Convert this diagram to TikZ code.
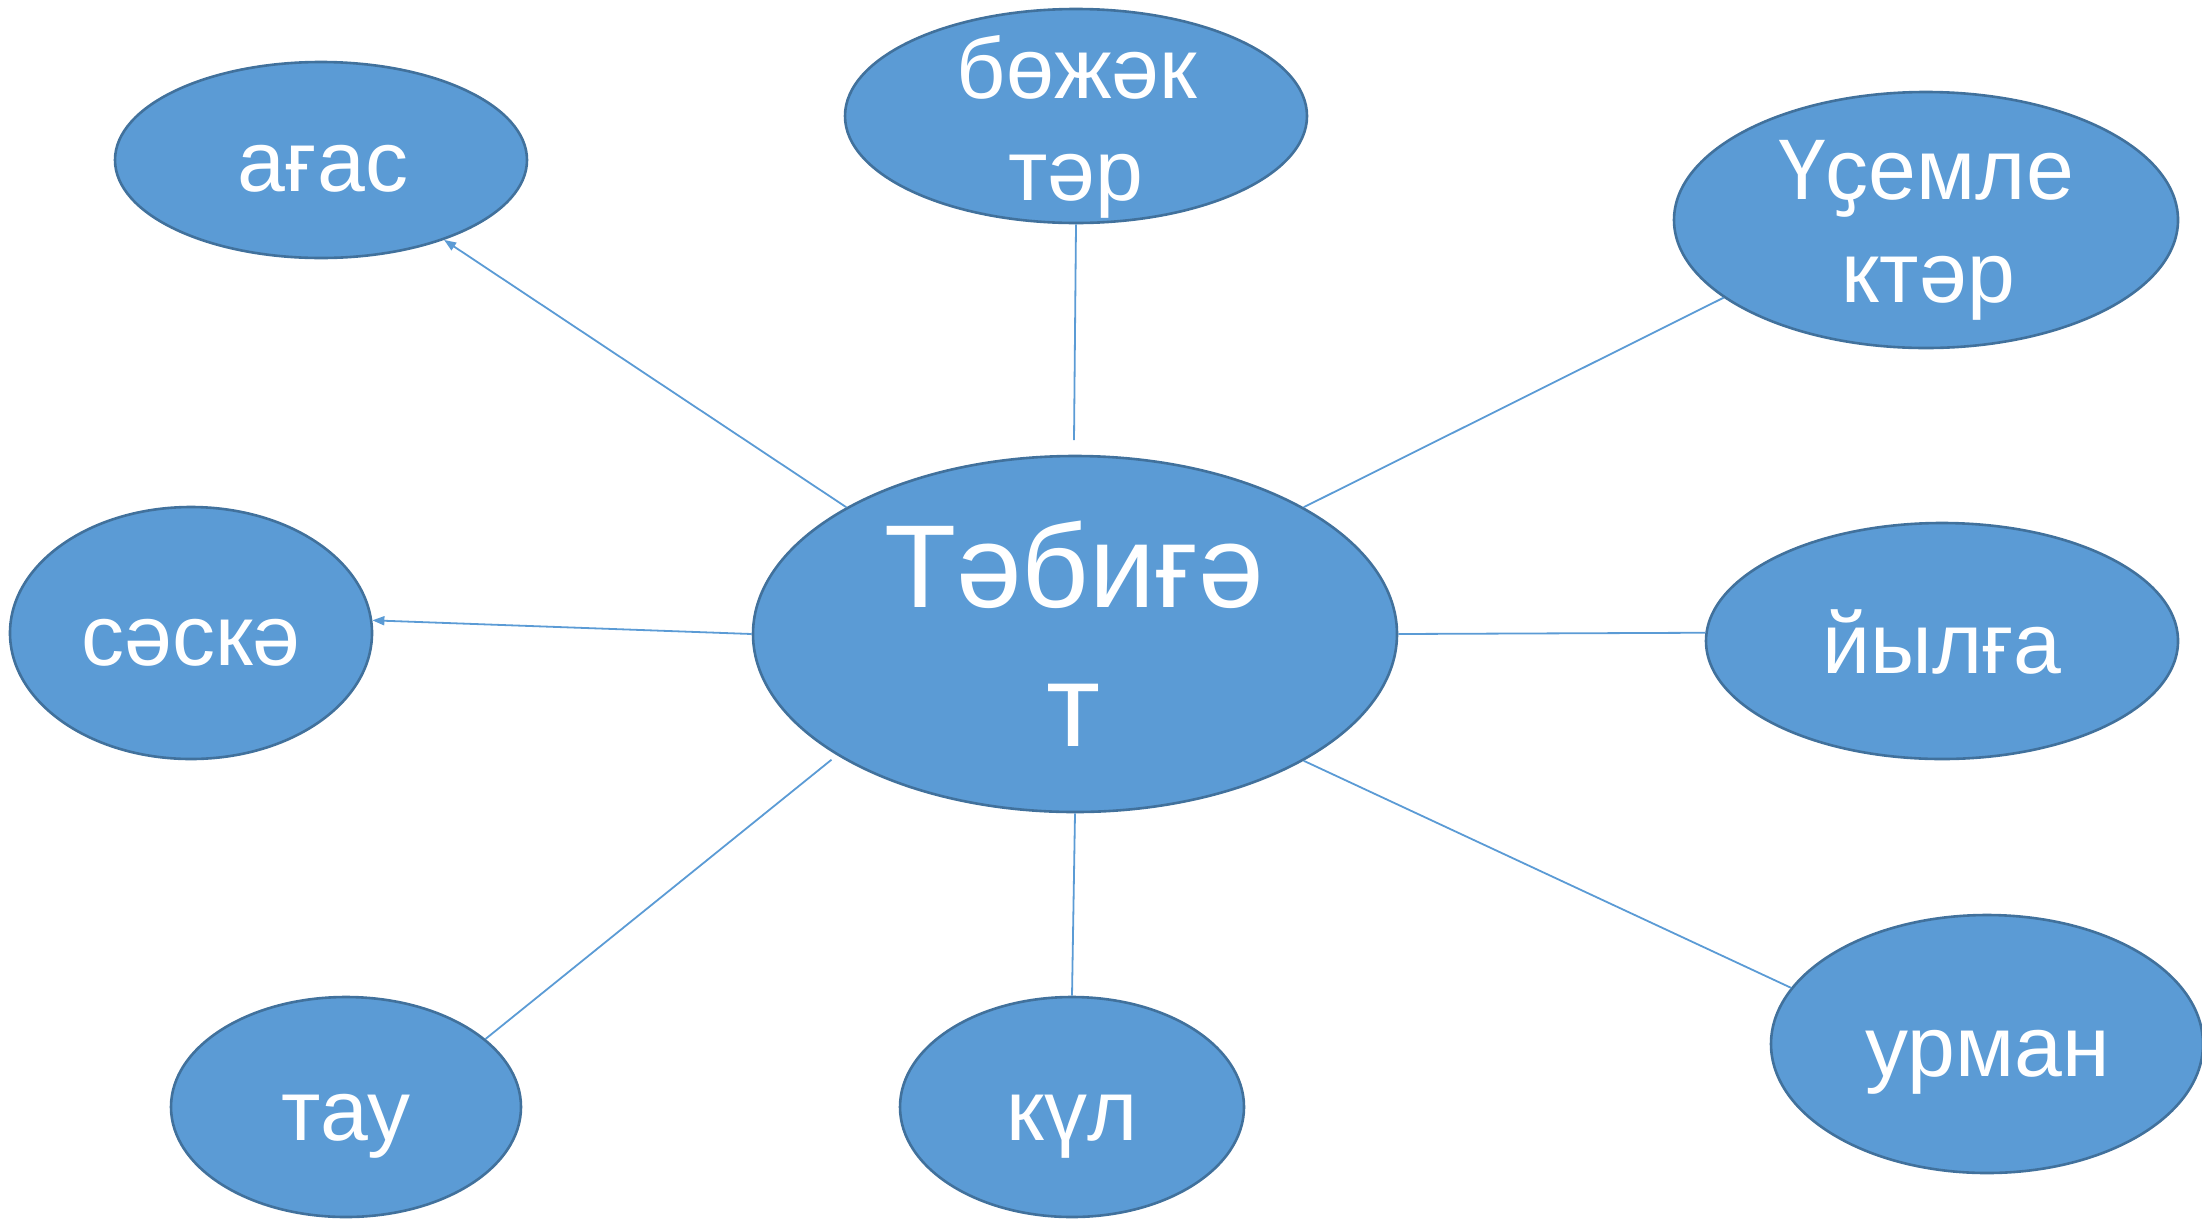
\documentclass[tikz,border=0pt]{standalone}
\usepackage{fontspec}
\setmainfont{Liberation Sans}
\usetikzlibrary{shapes.geometric,arrows.meta}
\definecolor{fillblue}{HTML}{5B9BD5}
\definecolor{edgeblue}{HTML}{41719C}
\begin{document}
\begin{tikzpicture}[x=1pt,y=-1pt,
  bub/.style={ellipse, draw=edgeblue, line width=2.6pt, fill=fillblue, inner sep=0pt},
  lbl/.style={text=white, anchor=base, inner sep=0pt, font=\fontsize{86}{100}\selectfont},
  biglbl/.style={text=white, anchor=base, inner sep=0pt, font=\fontsize{118}{136}\selectfont},
  link/.style={draw=fillblue, line width=1.8pt},
  tip/.style={-{Triangle[length=12pt,width=9pt]}}
]
\useasboundingbox (0,0) rectangle (2202,1219);
\clip (0,0) rectangle (2202,1219);

% ellipses
\node[bub, minimum width=644pt, minimum height=356pt] (tabigat) at (1075,634) {};
\node[bub, minimum width=412pt, minimum height=196pt] (agas) at (321,160) {};
\node[bub, minimum width=462pt, minimum height=214pt] (bozhak) at (1076,116) {};
\node[bub, minimum width=504pt, minimum height=256pt] (usemle) at (1926,220) {};
\node[bub, minimum width=472pt, minimum height=236pt] (yylga) at (1942,641) {};
\node[bub, minimum width=432pt, minimum height=258pt] (urman) at (1987,1044) {};
\node[bub, minimum width=362pt, minimum height=252pt] (saska) at (191,633) {};
\node[bub, minimum width=350pt, minimum height=220pt] (tau) at (346,1107) {};
\node[bub, minimum width=344pt, minimum height=220pt] (kul) at (1072,1107) {};

\coordinate (bzend) at (1074,440);

% connectors
\draw[link, tip] (tabigat.151) -- (agas.327);
\draw[link, tip] (tabigat.180) -- (saska.4);
\draw[link] (bozhak.south) -- (bzend);
\draw[link] (tabigat.29) -- (usemle.201);
\draw[link] (tabigat.0) -- (yylga.178);
\draw[link] (tabigat.331) -- (urman.164);
\draw[link] (tabigat.south) -- (kul.north);
\draw[link, shorten <=7pt] (tabigat.207.6) -- (tau.26);

% labels
\node[biglbl] (t1) at (1074,607) {Тәбиғә};
\node[biglbl] (t2) at (1074,746) {т};
\node[lbl] (la) at (323,191) {ағас};
\node[lbl] (lb1) at (1077,98) {бөжәк};
\node[lbl] (lb2) at (1076,200) {тәр};
\node[lbl] (lu1) at (1926,199) {Үҫемле};
\node[lbl] (lu2) at (1928,302) {ктәр};
\node[lbl] (ly) at (1942,673) {йылға};
\node[lbl] (lr) at (1988,1076) {урман};
\node[lbl] (ls) at (191,665) {сәскә};
\node[lbl] (lt) at (346,1140) {тау};
\node[lbl] (lk) at (1072,1140) {күл};
\end{tikzpicture}
\end{document}
